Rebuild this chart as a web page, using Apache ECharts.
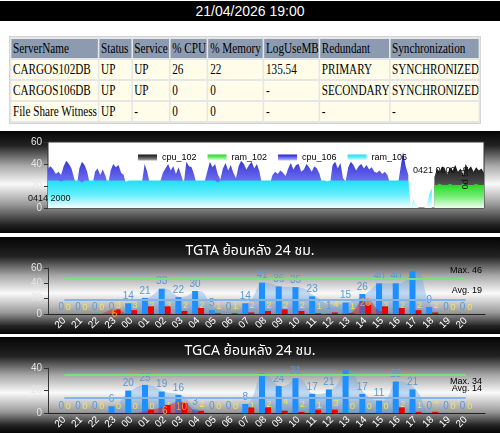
<!DOCTYPE html>
<html>
<head>
<meta charset="utf-8">
<script src="https://cdn.jsdelivr.net/npm/echarts@6/dist/echarts.min.js"></script>
<style>
    body { margin: 0; width: 500px; height: 433px; overflow: hidden; background: #fff; position: relative; }
    #head { position: absolute; left: 0; top: 1px; width: 500px; height: 20px; background: #000; color: #fff;
        font: 14px 'Liberation Sans', Arial, sans-serif; text-align: center; line-height: 21px; }
    #tbl { position: absolute; left: 9px; top: 36px; transform: scaleX(0.8); transform-origin: 0 0; }
    #tbl table { width: 590px; table-layout: fixed; border-collapse: separate; border-spacing: 2.5px 2px;
        background: #e6e6e6; border: 1px solid #d2d2d2; font: 14px 'Liberation Serif', 'Times New Roman', serif; }
    #tbl td { height: 19px; padding: 0 0 0 2px; white-space: nowrap; overflow: hidden; background: #fffde9; color: #000; }
    #tbl tr.hd td { background: #8c9bb0; }
    .panel { position: absolute; left: 0; width: 500px; }
</style>
</head>
<body>
<div id="head">21/04/2026 19:00</div>
<div id="tbl"></div>
<div id="main1" class="panel" style="top:131px;height:102px"></div>
<div id="main2" class="panel" style="top:237px;height:97px"></div>
<div id="main3" class="panel" style="top:337px;height:96px"></div>
<script>
// table
var colHeads = ['ServerName', 'Status', 'Service', '% CPU', '% Memory', 'LogUseMB', 'Redundant', 'Synchronization'];
var colWidths = [107, 39, 45, 45, 67, 67, 85, 109];
var rowA = ['CARGOS102DB', 'UP', 'UP', '26', '22', '135.54', 'PRIMARY', 'SYNCHRONIZED'];
var rowB = ['CARGOS106DB', 'UP', 'UP', '0', '0', '-', 'SECONDARY', 'SYNCHRONIZED'];
var rowC = ['File Share Witness', 'UP', '-', '0', '0', '-', '-', '-'];

// server load (hourly, from 0414 2000)
var cpu106 = [36, 38, 35, 31, 33, 30, 38, 43, 40, 36, 27, 20, 36, 42, 39, 33, 22, 20, 33, 36,
    30, 35, 29, 21, 34, 40, 37, 39, 32, 30, 20, 18, 22, 24, 19, 21, 23, 40, 33, 22,
    20, 23, 19, 24, 32, 36, 40, 34, 38, 31, 37, 30, 22, 42, 38, 37, 30, 20, 23, 21,
    24, 33, 42, 37, 40, 31, 26, 36, 41, 34, 39, 32, 27, 38, 43, 40, 35, 39, 42, 36,
    40, 33, 21, 19, 23, 22, 30, 33, 31, 34, 32, 29, 36, 41, 35, 39, 40, 33, 35, 40,
    37, 33, 38, 36, 31, 22, 20, 24, 21, 39, 42, 36, 41, 27, 24, 37, 42, 39, 34, 38,
    40, 36, 39, 35, 37, 33, 32, 34, 31, 33, 30, 22, 20, 23, 21, 36, 51, 38, 30];
var ram106 = [25, 25, 25, 25, 25, 24, 25, 25, 25, 25, 25, 25, 25, 23, 25, 25, 25, 25, 25, 25,
    25, 25, 25, 25, 25, 25, 25, 25, 25, 25, 24, 25, 25, 25, 25, 25, 25, 25, 25, 25,
    25, 25, 25, 25, 25, 25, 25, 25, 25, 25, 25, 25, 25, 25, 25, 25, 25, 25, 25, 25,
    25, 25, 25, 25, 25, 23, 25, 25, 25, 25, 25, 25, 25, 25, 25, 25, 25, 25, 25, 25,
    25, 25, 25, 25, 25, 25, 25, 25, 25, 25, 25, 25, 25, 25, 25, 25, 25, 25, 25, 25,
    25, 25, 25, 25, 25, 25, 25, 24, 25, 25, 25, 25, 25, 25, 25, 25, 25, 25, 25, 25,
    25, 25, 25, 25, 25, 25, 25, 25, 25, 25, 25, 25, 25, 25, 25, 25, 25, 25, 25,
    0, 8, 3, 0, 0, 0, 2, 12, 18];
var cpu102 = [28, 36, 33, 38, 35, 31, 37, 34, 39, 33, 36, 30, 40, 35, 38, 33, 37, 34, 36, 32];
var ram102 = [21, 21, 22, 21, 21, 21, 22, 21, 21, 21, 21, 22, 21, 21, 21, 21, 22, 21, 21, 21];
var start102 = 148;

// last 24 hours
var hours = ['20', '21', '22', '23', '00', '01', '02', '03', '04', '05', '06', '07', '08',
    '09', '10', '11', '12', '13', '14', '15', '16', '17', '18', '19', '20'];
var tgtaCount = [0, 0, 0, 0, 14, 21, 33, 22, 30, 5, 0, 14, 41, 36, 35, 23, 1, 15, 26, 40, 40, 56, 9, 0, 0];
var tgtaTrend = [0, 0, 0, 0, 14, 21, 33, 22, 30, 8, 3, 14, 41, 36, 35, 23, 12, 15, 26, 40, 40, 56, 9, 0, 0];
var tgtaFail = [0, 0, 0, 6, 5, 10, 10, 4, 8, 1, 1, 2, 4, 6, 4, 1, 2, 1, 12, 10, 8, 5, 2, 0, 0];
var tgtaFailArea = [0, 0, 0, 6, 0, 0, 0, 0, 0, 0, 0, 0, 0, 0, 0, 0, 0, 1, 20, 3, 0, 0, 0, 0, 0];
var tgtaWait = [0, 0, 0, 3, 3, 2, 3, 2, 2, 1, 1, 2, 2, 2, 2, 1, 4, 1, 3, 2, 2, 2, 2, 0, 0];
var tgtaMax = 46, tgtaAvg = 19;

var tgcaCount = [0, 0, 0, 6, 20, 25, 19, 16, 3, 0, 0, 8, 35, 24, 31, 17, 21, 38, 17, 11, 28, 21, 0, 0, 0];
var tgcaTrend = [0, 0, 0, 6, 20, 25, 19, 16, 3, 0, 0, 8, 35, 24, 31, 17, 21, 38, 17, 11, 28, 21, 0, 0, 0];
var tgcaFail = [0, 0, 0, 0, 0, 3, 7, 9, 2, 0, 0, 5, 5, 2, 1, 3, 3, 0, 0, 0, 5, 1, 1, 0, 0];
var tgcaFailArea = [0, 0, 0, 0, 0, 2, 6, 10, 1, 0, 0, 0, 0, 0, 0, 0, 0, 0, 0, 0, 0, 0, 0, 0, 0];
var tgcaWait = [0, 0, 0, 0, 0, 0, 1, 1, 2, 0, 0, 1, 2, 4, 2, 1, 3, 0, 0, 0, 2, 1, 4, 0, 0];
var tgcaMax = 34, tgcaAvg = 14;

$table = document.getElementById('tbl');
var html = '<table><colgroup>';
colWidths.forEach(function (w) { html += '<col style="width:' + w + 'px">'; });
html += '</colgroup><tr class="hd"><td>' + colHeads.join('</td><td>') + '</td></tr>';
[rowA, rowB, rowC].forEach(function (r) { html += '<tr><td>' + r.join('</td><td>') + '</td></tr>'; });
$table.innerHTML = html + '</table>';

var FONT = "'Liberation Sans', Arial, sans-serif";
var THAI = "Tahoma, 'Noto Sans Thai', 'Noto Sans', 'DejaVu Sans', sans-serif";

function metal(peak) {
    return new echarts.graphic.LinearGradient(0, 0, 0, 1, [
        {offset: 0, color: '#050505'},
        {offset: peak - 0.38, color: '#222'},
        {offset: peak - 0.18, color: '#a8a8a8'},
        {offset: peak, color: '#fafafa'},
        {offset: peak + 0.2, color: '#999'},
        {offset: 0.92, color: '#222'},
        {offset: 1, color: '#050505'}
    ]);
}
function grad(c0, c1, c2) {
    return new echarts.graphic.LinearGradient(0, 0, 0, 1, [
        {offset: 0, color: c0}, {offset: 0.5, color: c1}, {offset: 1, color: c2}
    ]);
}

var times = [];
for (var i = 0; i < 168; i++) {
    var t = 20 + i, d = 14 + Math.floor(t / 24), h = t % 24;
    times.push('04' + d + ' ' + (h < 10 ? '0' + h : h) + '00');
}
function place(arr, from) {
    var out = [];
    for (var k = 0; k < times.length; k++) {
        out.push(k >= from && k - from < arr.length ? arr[k - from] : null);
    }
    return out;
}

//第一个图：服务器负载
var myChart1 = echarts.init(document.getElementById('main1'));
var cBlack = grad('#111', '#555', '#aaa'),
    cGreen = grad('#1fd81f', '#70ec70', '#f0fff0'),
    cBlue = grad('#2020c8', '#6a6af0', '#c0c0ff'),
    cCyan = grad('#1ee0f4', '#62eefc', '#f4fdff');

function areaSeries(name, data, color) {
    return {
        name: name, type: 'line', data: data, showSymbol: false, symbol: 'none',
        lineStyle: {width: 0}, areaStyle: {color: color, opacity: 1}, itemStyle: {color: color}
    };
}

myChart1.setOption({
    backgroundColor: metal(0.52),
    animation: false,
    textStyle: {fontFamily: FONT},
    grid: {left: 48, right: 16, top: 11, bottom: 25, show: true, backgroundColor: '#fff', borderColor: '#333', borderWidth: 1},
    legend: {
        left: 133, top: 17, itemWidth: 19, itemHeight: 6, itemGap: 11, icon: 'rect',
        textStyle: {fontSize: 9, color: '#000'},
        data: [
            {name: 'cpu_102', itemStyle: {color: cBlack}},
            {name: 'ram_102', itemStyle: {color: cGreen}},
            {name: 'cpu_106', itemStyle: {color: cBlue}},
            {name: 'ram_106', itemStyle: {color: cCyan}}
        ]
    },
    xAxis: {type: 'category', data: times, boundaryGap: false, axisLine: {show: false}, axisTick: {show: false}, axisLabel: {show: false}},
    yAxis: {
        type: 'value', min: 0, max: 60, interval: 20,
        axisLine: {show: false}, axisTick: {show: true, length: 4, lineStyle: {color: '#333'}},
        axisLabel: {color: '#e4e4e4', fontSize: 10, margin: 6}, splitLine: {show: false}
    },
    series: [
        areaSeries('cpu_106', place(cpu106, 0), cBlue),
        areaSeries('ram_106', place(ram106, 0), cCyan),
        areaSeries('cpu_102', place(cpu102, start102), cBlack),
        areaSeries('ram_102', place(ram102, start102), cGreen)
    ],
    graphic: [
        {type: 'text', left: 28, top: 63, z: 100, style: {text: times[0], fill: '#111', font: '9px ' + FONT}},
        {type: 'text', left: 413, top: 35, z: 100, style: {text: times[start102], fill: '#111', font: '9px ' + FONT}},
        {type: 'text', x: 466, y: 47, z: 100, rotation: Math.PI / 2,
            style: {text: '0d 5h', fill: '#111', font: '9px ' + FONT, align: 'center', verticalAlign: 'middle'}}
    ]
});

// 24小时柱状图
function hourChart(dom, title, yMax, count, trend, fail, failArea, wait, maxV, avgV, maxBelow) {
    var chart = echarts.init(document.getElementById(dom));
    chart.setOption({
        backgroundColor: metal(0.58),
        animation: false,
        textStyle: {fontFamily: FONT},
        title: {text: title, left: 'center', top: 3, textStyle: {color: '#fff', fontSize: 14, fontWeight: 'normal', fontFamily: THAI}},
        grid: [
            {left: 48, right: 15, top: 31, bottom: 20},
            {left: 56, right: 26, top: 31, bottom: 20}
        ],
        xAxis: [
            {gridIndex: 0, type: 'value', min: 0, max: 1, axisLine: {show: true, lineStyle: {color: '#222'}},
                axisTick: {show: false}, axisLabel: {show: false}, splitLine: {show: false}},
            {gridIndex: 1, type: 'category', data: hours, axisLine: {show: false}, axisTick: {show: false},
                axisLabel: {color: '#fff', fontSize: 10, rotate: 45, interval: 0, margin: 5}}
        ],
        yAxis: [
            {gridIndex: 0, type: 'value', min: 0, max: yMax, interval: 20,
                axisLine: {show: true, lineStyle: {color: '#333'}}, axisTick: {show: true, length: 4, lineStyle: {color: '#333'}},
                axisLabel: {color: '#e4e4e4', fontSize: 10, margin: 6}, splitLine: {show: false}},
            {gridIndex: 1, type: 'value', min: 0, max: yMax, show: false}
        ],
        series: [
            {
                type: 'line', xAxisIndex: 1, yAxisIndex: 1, data: trend, smooth: true, symbol: 'none', z: 1,
                lineStyle: {width: 0}, areaStyle: {color: 'rgba(90,160,230,0.5)'},
                markLine: {
                    silent: true, symbol: 'none', label: {show: false},
                    data: [
                        [{coord: [0, maxV], lineStyle: {color: '#7ce07c', width: 2, type: 'solid'}}, {coord: [24, maxV]}],
                        [{coord: [0, avgV], lineStyle: {color: '#86b6e8', width: 2, type: 'solid'}}, {coord: [24, avgV]}]
                    ]
                }
            },
            {
                type: 'line', xAxisIndex: 1, yAxisIndex: 1, data: wait, symbol: 'circle', symbolSize: 0, z: 1,
                lineStyle: {opacity: 0},
                label: {show: true, position: 'top', distance: 2, offset: [4, 0], color: '#f2e35a', fontSize: 9}
            },
            {
                type: 'bar', xAxisIndex: 1, yAxisIndex: 1, data: count, barWidth: 6, barGap: '0%', z: 3,
                itemStyle: {color: '#1e8fff'},
                label: {show: true, position: 'top', distance: 2, color: '#5a98d6', fontSize: 10,
                    formatter: function (p) { return p.value >= yMax - 5 ? '' : p.value; }}
            },
            {
                type: 'bar', xAxisIndex: 1, yAxisIndex: 1, data: fail, barWidth: 6, z: 3,
                itemStyle: {color: '#f00000'}
            },
            {
                type: 'line', xAxisIndex: 1, yAxisIndex: 1, data: failArea, smooth: true, symbol: 'circle', symbolSize: 0, z: 4,
                lineStyle: {width: 0}, areaStyle: {color: 'rgba(235,0,0,0.55)'},
                label: {show: true, position: 'bottom', distance: 0, color: '#ff9a30', fontSize: 10,
                    formatter: function (p) { return p.value >= 5 ? p.value : ''; }}
            }
        ]
    });
    var yMaxPx = chart.convertToPixel({xAxisIndex: 1, yAxisIndex: 1}, [0, maxV])[1];
    var yAvgPx = chart.convertToPixel({xAxisIndex: 1, yAxisIndex: 1}, [0, avgV])[1];
    chart.setOption({
        graphic: [
            {type: 'text', x: 482, y: maxBelow ? yMaxPx + 2 : yMaxPx - 4, z: 100,
                style: {text: 'Max. ' + maxV, fill: '#000', font: '9px ' + FONT, align: 'right', verticalAlign: maxBelow ? 'top' : 'bottom'}},
            {type: 'text', x: 482, y: yAvgPx - 4, z: 100,
                style: {text: 'Avg. ' + avgV, fill: '#000', font: '9px ' + FONT, align: 'right', verticalAlign: 'bottom'}}
        ]
    });
    return chart;
}

var myChart2 = hourChart('main2', 'TGTA ย้อนหลัง 24 ชม.', 60, tgtaCount, tgtaTrend, tgtaFail, tgtaFailArea, tgtaWait, tgtaMax, tgtaAvg, false);
var myChart3 = hourChart('main3', 'TGCA ย้อนหลัง 24 ชม.', 40, tgcaCount, tgcaTrend, tgcaFail, tgcaFailArea, tgcaWait, tgcaMax, tgcaAvg, true);
</script>
</body>
</html>
